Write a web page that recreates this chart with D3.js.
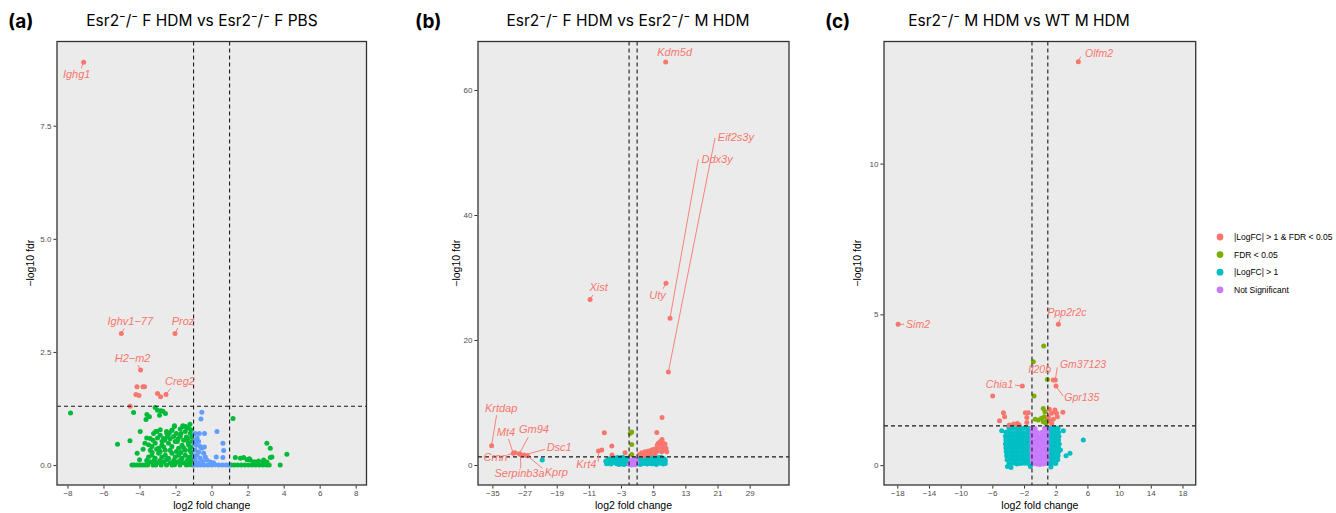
<!DOCTYPE html>
<html lang="en">
<head>
  <meta charset="UTF-8" />
  <title>Volcano plots - Esr2 knockout</title>
  <script src="https://cdn.jsdelivr.net/npm/d3@7"></script>
  <style>
    body { margin: 0; background: #fff; }
    svg { display: block; }
  </style>
</head>
<body>
  <svg width="1336" height="513"></svg>
  <script>
    // ---------- data: [log2 fold change, -log10 fdr] ----------

    // (a) Esr2-/- F HDM vs Esr2-/- F PBS
    const aSig = [
      [-7.1, 8.9], [-5.01, 2.91], [-2.03, 2.91], [-3.94, 2.1],
      [-4.14, 1.73], [-3.81, 1.73], [-3.72, 1.73],
      [-4.2, 1.56], [-4.03, 1.54], [-3.0, 1.58], [-2.83, 1.51], [-2.53, 1.56],
      [-4.52, 1.3],
    ];
    const aLfc = [
      [-7.83, 1.15], [-4.33, 1.16], [-3.13, 1.27], [-3.0, 1.21], [-2.7, 1.19], [-2.56, 1.14],
      [-3.59, 1.12], [-3.45, 1.07], [-3.64, 1.01], [-2.81, 1.2], [-2.89, 1.1],
      [-3.96, 0.74], [-5.22, 0.46], [-4.53, 0.54], [-4.13, 0.26], [-3.7, 0.48],
      [-2.06, 0.87], [-1.59, 0.87], [-2.5, 0.74], [-3.1, 0.74], [-1.74, 0.8], [-1.3, 0.82], [-2.2, 0.77],
      [-3.41, 0.59], [-3.22, 0.7], [-3.03, 0.74], [-2.85, 0.66], [-2.67, 0.59], [-2.48, 0.7],
      [-2.2, 0.77], [-2.07, 0.85], [-1.96, 0.7], [-1.74, 0.63], [-1.59, 0.85], [-1.46, 0.74],
      [-1.33, 0.59], [-1.18, 0.7], [-1.09, 0.52],
      [-3.31, 0.41], [-3.13, 0.48], [-2.94, 0.37], [-2.76, 0.44], [-2.57, 0.33], [-2.39, 0.48],
      [-2.2, 0.41], [-2.02, 0.52], [-1.83, 0.37], [-1.64, 0.44], [-1.46, 0.33], [-1.27, 0.44], [-1.15, 0.29],
      [-3.5, 0.18], [-3.31, 0.22], [-3.13, 0.15], [-2.94, 0.26], [-2.76, 0.18], [-2.57, 0.22],
      [-2.39, 0.15], [-2.2, 0.26], [-2.02, 0.18], [-1.83, 0.22], [-1.64, 0.15], [-1.46, 0.22],
      [-1.27, 0.17], [-1.09, 0.22],
      [-3.41, 0.07], [-3.03, 0.05], [-2.67, 0.07], [-2.29, 0.05], [-1.92, 0.07], [-1.55, 0.05], [-1.18, 0.07],
      [-3.8, 0.35], [-3.6, 0.6], [-4.0, 0.12], [-2.3, 0.58], [-1.9, 0.52], [-1.2, 0.9],
      [-1.4, 0.62], [-2.6, 0.55], [-3.3, 0.28], [-2.85, 0.3], [-1.7, 0.28], [-1.15, 0.4],
      [-3.5, 0.45], [-3.25, 0.55], [-3.0, 0.6], [-2.75, 0.52], [-2.45, 0.62], [-2.1, 0.63],
      [-1.85, 0.58], [-1.55, 0.55], [-1.3, 0.5], [-1.1, 0.62], [-3.4, 0.33], [-3.05, 0.35],
      [-2.65, 0.4], [-2.3, 0.33], [-1.95, 0.3], [-1.55, 0.38], [-1.2, 0.34], [-3.6, 0.1],
      [-3.2, 0.1], [-2.85, 0.1], [-2.5, 0.12], [-2.1, 0.1], [-1.75, 0.1], [-1.35, 0.1],
      [-1.1, 0.12], [-2.35, 0.7], [-1.7, 0.7], [-1.45, 0.85], [-1.15, 0.78], [-2.85, 0.78],
      [-4.42, 0], [-4.3, 0], [-4.15, 0], [-4.0, 0], [-3.85, 0], [-3.7, 0], [-3.55, 0], [-3.25, 0],
      [-3.1, 0], [-2.8, 0], [-2.5, 0], [-2.2, 0], [-2.05, 0.01], [-1.75, 0], [-1.4, 0], [-1.25, 0.01], [-1.05, 0],
      [1.19, 1.03], [1.32, 0.17], [1.6, 0.15], [1.78, 0.17], [1.97, 0.12], [2.15, 0.11], [2.34, 0.07],
      [2.61, 0.09], [2.89, 0.11], [3.07, 0.07], [3.26, 0.17], [3.35, 0.18], [3.07, 0.48], [3.26, 0.37],
      [4.18, 0.24], [3.81, 0.0], [2.1, 0.14], [2.43, 0.07], [2.87, 0.07],
      [1.08, 0], [1.25, 0], [1.45, 0], [1.65, 0], [1.85, 0], [2.05, 0], [2.25, 0], [2.45, 0],
      [2.65, 0], [2.85, 0], [3.05, 0], [3.2, 0],
    ];
    const aNs = [
      [-0.54, 1.17], [-0.59, 1.02], [-0.91, 0.7], [-0.68, 0.7], [-0.39, 0.7], [0.3, 0.74],
      [0.63, 0.48], [0.67, 0.32], [0.26, 0.18], [0.63, 0.17],
      [-0.91, 0.55], [-0.72, 0.52], [-0.85, 0.44], [-0.63, 0.41], [-0.91, 0.33], [-0.72, 0.29],
      [-0.54, 0.37], [-0.44, 0.26], [-0.81, 0.22], [-0.63, 0.15], [-0.35, 0.18], [-0.91, 0.11],
      [-0.26, 0.11], [-0.07, 0.07], [0.11, 0.05], [-0.97, 0.48], [-0.8, 0.6], [-0.95, 0.2],
      [-0.5, 0.08], [-0.75, 0.05], [-0.4, 0.4],
      [-0.95, 0], [-0.8, 0], [-0.6, 0], [-0.4, 0], [-0.2, 0], [0, 0], [0.2, 0.01], [0.4, 0],
      [0.6, 0], [0.8, 0], [0.95, 0],
    ];
    const aGenes = [
      { gene: 'Ighg1', x: -7.1, y: 8.9 },
      { gene: 'Ighv1\u221277', x: -5.01, y: 2.91 },
      { gene: 'Proz', x: -2.03, y: 2.91 },
      { gene: 'H2\u2212m2', x: -3.94, y: 2.1 },
      { gene: 'Creg2', x: -2.53, y: 1.56 },
    ];

    // (b) Esr2-/- F HDM vs Esr2-/- M HDM
    const bSig = [
      [8.1, 64.5], [8.18, 29.07], [9.18, 23.5], [8.77, 14.9], [-10.7, 26.5], [-35.2, 3.1],
      [-29.8, 1.87], [-29.4, 1.97], [-28.3, 1.8], [-28.0, 1.7], [-27.1, 1.6], [-26.3, 1.49],
      [-8.6, 2.24], [-7.8, 2.4], [-7.15, 5.17], [-5.3, 3.04], [-5.25, 1.6], [-2.0, 1.97],
      [7.2, 7.6], [5.9, 5.2], [7.2, 4.1],
      [2.14, 1.97], [2.55, 1.87], [2.96, 2.13], [3.79, 2.24], [4.2, 1.87], [4.63, 2.4], [5.2, 2.51],
      [5.45, 1.76], [5.7, 2.13], [5.87, 2.67], [6.03, 3.2], [6.27, 3.47], [6.53, 2.93], [6.69, 3.73],
      [7.11, 2.13], [7.52, 2.4], [7.69, 2.93], [7.93, 3.36], [8.18, 2.67], [8.36, 2.13], [1.5, 1.7],
      [3.3, 1.65], [4.9, 2.0], [6.9, 3.0], [7.3, 3.6], [6.3, 2.3], [4.0, 1.6], [2.6, 1.5],
    ];
    const bFdr = [[-0.7, 5.07], [-0.35, 5.28], [-0.35, 3.3], [-0.35, 1.7]];
    const bLfc = [
      [-22.6, 0.8],
      [-6.6, 0.2], [-6.0, 0.5], [-5.5, 0.15], [-5.2, 0.9], [-4.8, 0.4], [-4.4, 1.1], [-4.1, 0.2],
      [-3.7, 0.7], [-3.3, 0.3], [-3.0, 1.2], [-2.7, 0.6], [-2.3, 0.1], [-2.0, 0.9], [-1.7, 0.4],
      [-1.4, 1.1], [-1.2, 0.25], [-6.3, 0.9], [-5.8, 1.0], [-3.9, 1.2], [-2.5, 1.2], [-4.6, 0.7], [-3.5, 0.1],
      [1.2, 0.3], [1.4, 0.9], [1.8, 0.1], [2.1, 0.6], [2.4, 1.2], [2.8, 0.3], [3.1, 0.8], [3.5, 0.15],
      [3.8, 1.1], [4.1, 0.5], [4.5, 0.2], [4.8, 0.9], [5.1, 1.25], [5.4, 0.4], [5.8, 0.1], [6.1, 0.75],
      [6.4, 1.2], [6.8, 0.3], [7.2, 0.9], [7.5, 0.15], [7.9, 0.6], [1.6, 1.2], [2.6, 0.9], [3.3, 1.25],
      [4.3, 1.2], [5.6, 0.95], [7.0, 1.25], [8.0, 0.25],
      [-6.8, 0.6], [-5.9, 0.25], [-5.3, 0.55], [-4.9, 1.15], [-4.3, 0.5], [-3.8, 0.35], [-3.1, 0.65],
      [-2.8, 0.2], [-2.2, 0.55], [-1.9, 0.2], [-1.5, 0.7], [1.3, 0.6], [1.9, 0.9], [2.3, 0.25],
      [2.9, 1.0], [3.6, 0.6], [4.0, 0.9], [4.6, 0.55], [5.0, 0.2], [5.3, 0.85], [5.9, 0.5],
      [6.6, 0.65], [7.1, 0.45], [7.7, 1.0], [8.0, 0.8],
    ];
    const bNs = [
      [-0.9, 0.1], [-0.5, 0.35], [-0.1, 0.6], [0.3, 0.2], [0.7, 0.9], [0.9, 0.4],
      [-0.7, 0.7], [0.1, 1.0], [0.5, 0.05], [-0.3, 0.0],
    ];
    const bGenes = [
      { gene: 'Kdm5d', x: 8.1, y: 64.5 },
      { gene: 'Eif2s3y', x: 8.77, y: 14.9 },
      { gene: 'Ddx3y', x: 9.18, y: 23.5 },
      { gene: 'Xist', x: -10.7, y: 26.5 },
      { gene: 'Uty', x: 8.18, y: 29.07 },
      { gene: 'Krtdap', x: -35.2, y: 3.1 },
      { gene: 'Mt4', x: -29.8, y: 1.87 },
      { gene: 'Gm94', x: -28.3, y: 1.8 },
      { gene: 'Dsc1', x: -27.1, y: 1.6 },
      { gene: 'Crnn', x: -29.4, y: 1.97 },
      { gene: 'Serpinb3a', x: -28.0, y: 1.7 },
      { gene: 'Kprp', x: -26.3, y: 1.49 },
      { gene: 'Krt4', x: -8.6, y: 2.24 },
    ];

    // (c) Esr2-/- M HDM vs WT M HDM
    const cSig = [
      [4.85, 13.38], [-17.9, 4.67], [2.33, 4.67], [1.69, 2.82], [1.94, 2.82], [2.03, 2.62], [-2.22, 2.62],
      [-5.96, 2.29], [-5.1, 1.47], [-4.6, 1.74], [-4.45, 1.6], [-3.86, 1.33], [-2.85, 1.38], [-2.6, 1.33],
      [-1.84, 1.74], [-1.46, 1.74], [-1.65, 1.58], [-1.65, 1.41], [-3.3, 1.36],
      [1.19, 1.85], [1.48, 1.72], [1.9, 1.83], [2.1, 1.72], [1.06, 1.6], [1.27, 1.47], [1.69, 1.52],
      [1.48, 1.38], [2.9, 1.75], [2.2, 1.6],
    ];
    const cFdr = [
      [0.48, 3.95], [-0.83, 3.43], [0.94, 2.84], [-0.74, 2.29], [0.43, 1.88], [0.64, 1.77],
      [-0.6, 1.52], [-0.2, 1.5], [0.2, 1.55], [0.43, 1.44], [0.76, 1.39], [0.94, 1.5], [0.55, 1.6],
    ];
    const cLfc = [
      [-4.82, 1.14], [2.96, 1.14], [5.48, 0.83], [3.8, 0.39], [3.3, 0.31], [2.6, 0.5],
      [-3.9, 1.22], [-3.4, 1.23], [-2.9, 1.21], [-2.4, 1.22], [-1.9, 1.24], [-1.45, 1.22], [1.15, 1.22], [1.55, 1.21], [1.95, 1.23], [2.3, 1.22],
      [-4.3, 1.09], [-3.85, 1.1], [-3.4, 1.08], [-2.95, 1.09], [-2.5, 1.1], [-2.05, 1.08], [-1.6, 1.09], [-1.25, 1.1], [1.1, 1.09], [1.5, 1.08], [1.9, 1.1], [2.35, 1.09],
      [-4.35, 0.96], [-3.9, 0.97], [-3.45, 0.95], [-3.0, 0.96], [-2.55, 0.97], [-2.1, 0.95], [-1.65, 0.96], [-1.25, 0.96], [1.1, 0.96], [1.55, 0.95], [1.95, 0.97], [2.4, 0.96],
      [-4.3, 0.83], [-3.85, 0.84], [-3.4, 0.82], [-2.95, 0.83], [-2.5, 0.84], [-2.05, 0.82], [-1.6, 0.83], [-1.25, 0.84], [1.1, 0.83], [1.5, 0.82], [1.9, 0.84], [2.35, 0.83],
      [-4.35, 0.7], [-3.9, 0.71], [-3.45, 0.69], [-3.0, 0.7], [-2.55, 0.71], [-2.1, 0.69], [-1.65, 0.7], [-1.25, 0.7], [1.1, 0.7], [1.55, 0.69], [1.95, 0.71], [2.45, 0.7],
      [-4.3, 0.57], [-3.85, 0.58], [-3.4, 0.56], [-2.95, 0.57], [-2.5, 0.58], [-2.05, 0.56], [-1.6, 0.57], [-1.25, 0.58], [1.1, 0.57], [1.5, 0.56], [1.9, 0.58], [2.35, 0.57],
      [-4.25, 0.44], [-3.8, 0.45], [-3.35, 0.43], [-2.9, 0.44], [-2.45, 0.45], [-2.0, 0.43], [-1.6, 0.44], [-1.25, 0.45], [1.1, 0.44], [1.55, 0.43], [1.95, 0.45], [2.35, 0.44],
      [-4.2, 0.31], [-3.75, 0.32], [-3.3, 0.3], [-2.85, 0.31], [-2.4, 0.32], [-1.95, 0.3], [-1.55, 0.31], [-1.2, 0.32], [1.1, 0.31], [1.5, 0.3], [1.9, 0.32], [2.3, 0.31],
      [-4.15, 0.18], [-3.7, 0.19], [-3.25, 0.17], [-2.8, 0.18], [-2.35, 0.19], [-1.9, 0.17], [-1.5, 0.18], [-1.2, 0.19], [1.1, 0.18], [1.5, 0.17], [1.9, 0.19], [2.25, 0.18],
      [-3.9, 0.05], [-3.4, 0.06], [-2.9, 0.04], [-2.4, 0.05], [-1.9, 0.06], [-1.45, 0.05], [1.2, 0.05], [1.6, 0.06], [2.0, 0.05],
      [-4.1, -0.05], [-3.65, -0.08], [-1.2, -0.05], [1.4, -0.06],
    ];
    const cNs = [
      [-1.0, 1.22], [-0.6, 1.21], [0.6, 1.22], [0.9, 1.21],
      [-1.0, 1.09], [-0.6, 1.1], [-0.3, 1.08], [0.3, 1.09], [0.6, 1.1], [0.9, 1.08],
      [-1.0, 0.96], [-0.6, 0.97], [-0.2, 0.95], [0.2, 0.96], [0.6, 0.97], [0.9, 0.95],
      [-1.0, 0.83], [-0.6, 0.82], [-0.2, 0.84], [0.2, 0.83], [0.6, 0.82], [0.9, 0.84],
      [-1.0, 0.7], [-0.6, 0.71], [-0.2, 0.69], [0.2, 0.7], [0.6, 0.71], [0.9, 0.69],
      [-1.0, 0.57], [-0.6, 0.56], [-0.2, 0.58], [0.2, 0.57], [0.6, 0.56], [0.9, 0.58],
      [-1.0, 0.44], [-0.6, 0.45], [-0.2, 0.43], [0.2, 0.44], [0.6, 0.45], [0.9, 0.43],
      [-1.0, 0.31], [-0.6, 0.3], [-0.2, 0.32], [0.2, 0.31], [0.6, 0.3], [0.9, 0.32],
      [-1.0, 0.18], [-0.6, 0.19], [-0.2, 0.17], [0.2, 0.18], [0.6, 0.19], [0.9, 0.17],
      [-0.8, 0.05], [-0.4, 0.04], [0.0, 0.02], [0.4, 0.04], [0.8, 0.05],
    ];
    const cGenes = [
      { gene: 'Olfm2', x: 4.85, y: 13.38 },
      { gene: 'Sim2', x: -17.9, y: 4.67 },
      { gene: 'Ppp2r2c', x: 2.33, y: 4.67 },
      { gene: 'Il20b', x: 1.69, y: 2.82 },
      { gene: 'Gm37123', x: 1.94, y: 2.82 },
      { gene: 'Gpr135', x: 2.03, y: 2.62 },
      { gene: 'Chia1', x: -2.22, y: 2.62 },
    ];

    // ticks
    const aXTicks = [-8, -6, -4, -2, 0, 2, 4, 6, 8];
    const aYTicks = [0, 2.5, 5, 7.5];
    const bXTicks = [-35, -27, -19, -11, -3, 5, 13, 21, 29];
    const bYTicks = [0, 20, 40, 60];
    const cXTicks = [-18, -14, -10, -6, -2, 2, 6, 10, 14, 18];
    const cYTicks = [0, 5, 10];

    const legendLabels = ['|LogFC| > 1 & FDR < 0.05', 'FDR < 0.05', '|LogFC| > 1', 'Not Significant'];

    // ---------- drawing ----------
    const RED = '#F8766D';
    const svg = d3.select('svg');
    const plotTop = 41.5;
    const plotBottom = 485;

    // label placement (pixel offsets from the point), like ggrepel output
    const nudge = {
      'Ighg1': [-7, 16, 'middle', [-2.5, 6]],
      'Ighv1\u221277': [9, -8, 'middle', [3, -5]],
      'Proz': [8, -8, 'middle', [3, -5.5]],
      'H2\u2212m2': [-8, -8, 'middle', [-2.7, -5]],
      'Creg2': [14, -9, 'middle', [4.5, -6]],
      'Kdm5d': [9, -6, 'middle', null],
      'Eif2s3y': [49.5, -231, 'start', [46.7, -234]],
      'Ddx3y': [31.5, -155.5, 'start', [28.3, -158.7]],
      'Xist': [8.5, -8.5, 'middle', [3, -4.5]],
      'Uty': [-8.5, 15.5, 'middle', [-3, 5.5]],
      'Krtdap': [9.5, -33.5, 'middle', [5, -30.5]],
      'Mt4': [-7.3, -17.5, 'middle', [-4.8, -14.3]],
      'Gm94': [14.7, -20.5, 'middle', [9, -16.7]],
      'Dsc1': [22.5, -4, 'start', [20.8, -5.7]],
      'Crnn': [-7.5, 8.8, 'end', [-7.6, 2.3]],
      'Serpinb3a': [-1, 22.3, 'middle', [0.2, 13.9]],
      'Kprp': [29, 20.3, 'middle', [15, 12.6]],
      'Krt4': [-12.2, 16.7, 'middle', [-0.2, 10.7]],
      'Olfm2': [6.7, -4.7, 'start', [2.3, -5]],
      'Sim2': [8, 3.4, 'start', [6, 0]],
      'Ppp2r2c': [8.7, -8.3, 'middle', [1.7, -5]],
      'Il20b': [-13.6, -6.7, 'middle', null],
      'Gm37123': [4.7, -11.7, 'start', [2, -12.7]],
      'Gpr135': [8.3, 14.7, 'start', [7.3, 10]],
      'Chia1': [-9, 2.3, 'end', [-7.3, -1]],
    };

    const panels = [
      {
        letter: '(a)', letterX: 8,
        title: 'Esr2\u207B/\u207B F HDM vs Esr2\u207B/\u207B F PBS', titleX: 202,
        left: 57, right: 366.5, yLabelX: 30,
        xDomain: [-8.58, 8.6], yDomain: [-0.44, 9.36],
        xTicks: aXTicks, yTicks: aYTicks, yFmt: d3.format('.1f'),
        groups: [[aLfc, '#00BA38'], [aNs, '#619CFF'], [aSig, RED]],
        genes: aGenes, labelSize: 11,
      },
      {
        letter: '(b)', letterX: 415,
        title: 'Esr2\u207B/\u207B F HDM vs Esr2\u207B/\u207B M HDM', titleX: 628,
        left: 478, right: 789, yLabelX: 456,
        xDomain: [-38.58, 38.78], yDomain: [-3.2, 67.76],
        xTicks: bXTicks, yTicks: bYTicks, yFmt: d3.format('d'),
        groups: [[bLfc, '#00BFC4'], [bNs, '#C77CFF'], [bFdr, '#7CAE00'], [bSig, RED]],
        genes: bGenes, labelSize: 11,
      },
      {
        letter: '(c)', letterX: 825,
        title: 'Esr2\u207B/\u207B M HDM vs WT M HDM', titleX: 1019,
        left: 884, right: 1195.7, yLabelX: 857,
        xDomain: [-19.68, 19.67], yDomain: [-0.66, 14.05],
        xTicks: cXTicks, yTicks: cYTicks, yFmt: d3.format('d'),
        groups: [[cLfc, '#00BFC4'], [cNs, '#C77CFF'], [cFdr, '#7CAE00'], [cSig, RED]],
        genes: cGenes, labelSize: 10.5,
      },
    ];

    panels.forEach((p) => {
      const x = d3.scaleLinear().domain(p.xDomain).range([p.left, p.right]);
      const y = d3.scaleLinear().domain(p.yDomain).range([plotBottom, plotTop]);
      const g = svg.append('g');

      // panel background
      g.append('rect')
        .attr('x', p.left).attr('y', plotTop)
        .attr('width', p.right - p.left).attr('height', plotBottom - plotTop)
        .attr('fill', '#EBEBEB');

      // points
      p.groups.forEach(([values, color]) => {
        g.append('g')
          .selectAll('circle')
          .data(values)
          .join('circle')
          .attr('cx', (d) => x(d[0]))
          .attr('cy', (d) => y(d[1]))
          .attr('r', 2.5)
          .attr('fill', color);
      });

      // threshold lines
      const dash = (sel) => sel.attr('stroke', '#1a1a1a').attr('stroke-width', 1.1).attr('stroke-dasharray', '4,3');
      g.append('line')
        .attr('x1', p.left).attr('x2', p.right)
        .attr('y1', y(-Math.log10(0.05))).attr('y2', y(-Math.log10(0.05)))
        .call(dash);
      [-1, 1].forEach((v) => {
        g.append('line')
          .attr('x1', x(v)).attr('x2', x(v))
          .attr('y1', plotTop).attr('y2', plotBottom)
          .call(dash);
      });

      // gene labels
      p.genes.forEach((d) => {
        const [dx, dy, anchor, seg] = nudge[d.gene];
        const px = x(d.x);
        const py = y(d.y);
        if (seg) {
          g.append('line')
            .attr('x1', px).attr('y1', py)
            .attr('x2', px + seg[0]).attr('y2', py + seg[1])
            .attr('stroke', RED).attr('stroke-width', 0.9);
        }
        g.append('text')
          .attr('x', px + dx).attr('y', py + dy)
          .attr('text-anchor', anchor)
          .attr('fill', RED)
          .style('font-family', '"Liberation Sans", Arial, sans-serif')
          .style('font-style', 'italic')
          .style('font-size', p.labelSize + 'px')
          .text(d.gene);
      });

      // panel border
      g.append('rect')
        .attr('x', p.left).attr('y', plotTop)
        .attr('width', p.right - p.left).attr('height', plotBottom - plotTop)
        .attr('fill', 'none').attr('stroke', '#333').attr('stroke-width', 1.3);

      // axes
      const xAxis = g.append('g')
        .attr('transform', `translate(0,${plotBottom + 0.6})`)
        .call(d3.axisBottom(x).tickValues(p.xTicks).tickSize(3).tickPadding(2).tickFormat(d3.format('d')));
      const yAxis = g.append('g')
        .attr('transform', `translate(${p.left - 0.6},0)`)
        .call(d3.axisLeft(y).tickValues(p.yTicks).tickSize(3).tickPadding(2).tickFormat(p.yFmt));
      [xAxis, yAxis].forEach((ax) => {
        ax.select('.domain').remove();
        ax.selectAll('line').attr('stroke', '#333');
        ax.selectAll('text')
          .attr('fill', '#4D4D4D')
          .style('font-family', '"Liberation Sans", Arial, sans-serif')
          .style('font-size', '8px');
      });

      // axis titles
      g.append('text')
        .attr('x', (p.left + p.right) / 2).attr('y', 509)
        .attr('text-anchor', 'middle')
        .style('font-family', '"Liberation Sans", Arial, sans-serif')
        .style('font-size', '10.5px')
        .text('log2 fold change');
      g.append('text')
        .attr('transform', `translate(${p.yLabelX},${(plotTop + plotBottom) / 2}) rotate(-90)`)
        .attr('text-anchor', 'middle')
        .attr('dy', '0.35em')
        .style('font-family', '"Liberation Sans", Arial, sans-serif')
        .style('font-size', '10.5px')
        .text('\u2212log10 fdr');

      // title and panel letter
      g.append('text')
        .attr('x', p.titleX).attr('y', 26)
        .attr('text-anchor', 'middle')
        .style('font-family', 'Inter, sans-serif')
        .style('font-size', '15.5px')
        .text(p.title);
      g.append('text')
        .attr('x', p.letterX).attr('y', 28)
        .style('font-family', 'Inter, sans-serif')
        .style('font-weight', 700)
        .style('font-size', '19px')
        .text(p.letter);
    });

    // legend
    const legendColors = [RED, '#7CAE00', '#00BFC4', '#C77CFF'];
    const legend = svg.append('g').attr('transform', 'translate(1220,237)');
    legendLabels.forEach((label, i) => {
      legend.append('circle')
        .attr('cx', 0).attr('cy', i * 17.6)
        .attr('r', 3.4)
        .attr('fill', legendColors[i]);
      legend.append('text')
        .attr('x', 14).attr('y', i * 17.6)
        .attr('dy', '0.35em')
        .style('font-family', '"Liberation Sans", Arial, sans-serif')
        .style('font-size', '8.5px')
        .text(label);
    });
  </script>
</body>
</html>
